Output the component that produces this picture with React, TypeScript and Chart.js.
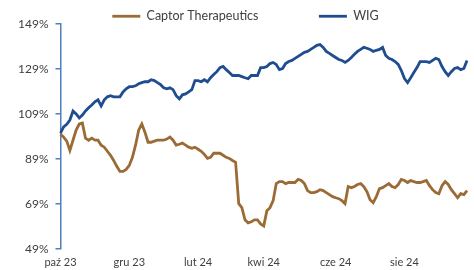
import React, { useEffect, useRef } from "react";
import { Chart, registerables } from "chart.js";

Chart.register(...registerables);

const months = ["paź 23", "lis 23", "gru 23", "sty 24", "lut 24", "mar 24", "kwi 24", "maj 24", "cze 24", "lip 24", "sie 24", "wrz 24"];
const samplesPerMonth = [11, 11, 10, 12, 10, 11, 11, 12, 10, 12, 11, 10];
const shownMonths = ["paź 23", "gru 23", "lut 24", "kwi 24", "cze 24", "sie 24"];

const captor = [
  100.0, 98.7, 96.9, 92.8, 97.3, 101.8, 104.5, 104.9, 98.2, 97.3, 98.2,
  97.3, 97.3, 95.1, 94.2, 92.4, 90.6, 88.3, 85.7, 83.4, 83.4, 84.3,
  86.1, 89.7, 95.1, 101.8, 104.5, 100.9, 96.4, 96.4, 96.9, 97.3,
  97.3, 97.3, 97.8, 98.7, 97.3, 95.1, 95.5, 96.0, 95.1, 94.2, 93.7, 94.2,
  93.3, 92.4, 91.0, 89.2, 89.7, 91.5, 91.5, 91.5, 90.6, 89.7,
  89.2, 88.3, 87.5, 69.1, 67.3, 61.9, 60.5, 61.0, 61.9, 61.9, 60.1,
  59.2, 65.9, 67.3, 70.4, 78.0, 78.9, 78.9, 78.0, 78.5, 78.5, 78.5,
  79.9, 79.4, 78.0, 74.9, 74.0, 74.0, 74.4, 75.3, 74.9, 74.0, 73.1, 72.2,
  71.7, 71.3, 70.4, 69.1, 76.7, 76.2, 76.7, 77.6, 78.0, 76.7,
  74.4, 70.8, 69.5, 72.2, 75.8, 76.2, 77.1, 78.0, 76.7, 76.2, 77.6, 79.9,
  79.4, 78.5, 79.4, 78.9, 78.5, 78.5, 78.9, 79.4, 77.1, 75.3, 74.0,
  73.5, 77.1, 78.9, 77.6, 75.3, 73.5, 71.7, 73.5, 73.1, 74.9,
];

const wig = [
  100.5, 103.2, 104.4, 106.3, 110.3, 109.0, 107.2, 108.5, 110.3, 111.7, 113.0,
  114.4, 115.3, 112.6, 115.3, 116.6, 117.1, 116.6, 116.6, 116.6, 118.8, 120.2,
  121.1, 121.1, 121.5, 122.4, 122.9, 123.3, 123.3, 124.2, 123.8, 122.9,
  122.0, 120.6, 120.2, 120.6, 119.8, 117.1, 115.7, 117.5, 117.9, 118.8, 119.8, 123.8,
  123.8, 123.3, 124.2, 123.3, 125.1, 126.5, 127.8, 129.6, 130.1, 128.7,
  127.4, 126.1, 126.1, 126.1, 125.6, 125.1, 124.7, 126.1, 126.1, 126.1, 129.6,
  129.6, 130.1, 131.4, 131.9, 131.0, 128.7, 129.2, 131.4, 132.3, 132.8, 133.7,
  134.6, 135.5, 136.4, 136.8, 137.7, 138.6, 139.5, 139.9, 138.6, 136.8, 135.9, 135.0,
  134.1, 133.2, 132.8, 131.9, 132.8, 134.1, 135.5, 136.8, 137.7, 138.6,
  138.2, 137.7, 136.8, 137.3, 137.7, 138.6, 135.0, 133.7, 133.2, 132.3, 131.0, 128.3,
  124.7, 122.9, 125.1, 127.4, 129.6, 132.3, 132.3, 132.3, 131.9, 132.8, 133.7,
  133.2, 130.1, 127.8, 126.1, 127.8, 129.2, 129.6, 128.7, 129.2, 132.8,
];

const seriesNames = ["Captor Therapeutics", "WIG"];

const categories: string[] = [];
const firstOfMonth: boolean[] = [];
months.forEach((m, mi) => {
  for (let k = 0; k < samplesPerMonth[mi]; k++) {
    categories.push(m);
    firstOfMonth.push(k === 0);
  }
});

export default function App() {
  const ref = useRef<HTMLCanvasElement | null>(null);
  useEffect(() => {
    if (!ref.current) return;
    const font = "Lato";
    const chart = new Chart(ref.current, {
      type: "line",
      data: {
        labels: categories,
        datasets: [
          {
            label: seriesNames[0],
            data: captor,
            borderColor: "#9b6a35",
            backgroundColor: "#9b6a35",
            borderWidth: 2.8,
            pointRadius: 0,
            pointStyle: "line",
            tension: 0,
          },
          {
            label: seriesNames[1],
            data: wig,
            borderColor: "#1f4d8f",
            backgroundColor: "#1f4d8f",
            borderWidth: 2.8,
            pointRadius: 0,
            pointStyle: "line",
            tension: 0,
          },
        ],
      },
      options: {
        responsive: false,
        animation: false,
        layout: { padding: { left: 11, right: -6, top: 4, bottom: -6 } },
        plugins: {
          tooltip: { enabled: false },
          legend: {
            display: true,
            position: "top",
            maxHeight: 20,
            labels: {
              usePointStyle: true,
              pointStyle: "line",
              pointStyleWidth: 28,
              padding: 6,
              color: "#404040",
              font: { family: font, size: 12.5 },
              generateLabels: (ch: any) => {
                const items = Chart.defaults.plugins.legend.labels.generateLabels(ch);
                items.forEach((it: any, i: number) => {
                  if (i === 0) it.text = it.text + "\u00a0".repeat(17);
                });
                return items;
              },
            },
          },
        },
        scales: {
          x: {
            type: "category",
            offset: false,
            grid: { display: false, drawTicks: false },
            border: { display: false },
            ticks: {
              autoSkip: false,
              maxRotation: 0,
              padding: 7,
              color: "#404040",
              font: { family: font, size: 11 },
              callback: (_v: any, i: number) =>
                firstOfMonth[i] && shownMonths.includes(categories[i]) ? categories[i] : "",
            },
          },
          y: {
            min: 49,
            max: 149,
            grid: {
              drawOnChartArea: false,
              drawTicks: true,
              tickLength: 5,
              color: "#4f7fbf",
              lineWidth: 1.5,
            },
            border: { display: true, color: "#4f7fbf", width: 1.5 },
            ticks: {
              stepSize: 20,
              padding: 7,
              color: "#404040",
              font: { family: font, size: 12 },
              callback: (v: any) => v + "%",
            },
          },
        },
      },
    });
    return () => chart.destroy();
  }, []);
  return (
    <div style={{ position: "fixed", left: 0, top: 0, width: 474, height: 270, background: "#fff" }}>
      <canvas ref={ref} width={474} height={270} />
    </div>
  );
}
